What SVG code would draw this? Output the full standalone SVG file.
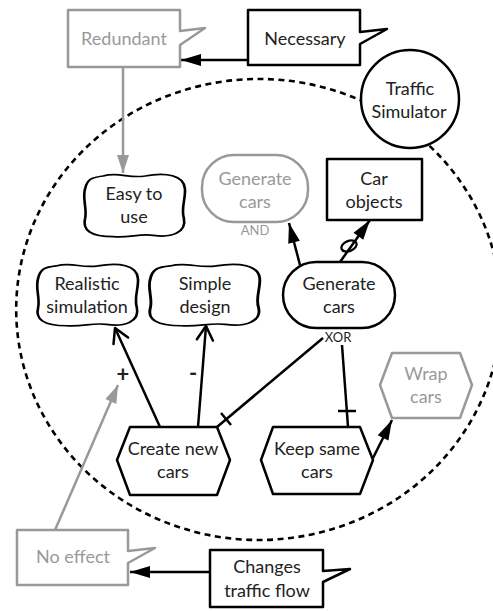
<svg xmlns="http://www.w3.org/2000/svg" width="493" height="611" viewBox="0 0 493 611">
  <style>
    .k { fill: #fff; stroke: #000; stroke-width: 2.5; stroke-linejoin: round; }
    .gr { fill: #fff; stroke: #999; stroke-width: 2.5; stroke-linejoin: round; }
    .ln { fill: none; stroke: #000; stroke-width: 2.5; }
    .lg { fill: none; stroke: #999; stroke-width: 2.5; }
    text { font-family: Lato, "Liberation Sans", sans-serif; font-size: 18px; text-anchor: middle; fill: #222; }
    text.g { fill: #999; }
    text.s { font-size: 13px; }
    text.sign { font-size: 22px; font-weight: bold; }
    .boundary { fill: none; stroke: #000; stroke-width: 2.6; stroke-dasharray: 6 4.5; }
  </style>
  <defs>
    <marker id="head" markerUnits="userSpaceOnUse" markerWidth="22" markerHeight="14" refX="20" refY="0" orient="auto" overflow="visible">
      <path d="M0,-6 L20,0 L0,6 Z" fill="#000"/>
    </marker>
    <marker id="headGray" markerUnits="userSpaceOnUse" markerWidth="22" markerHeight="14" refX="18" refY="0" orient="auto" overflow="visible">
      <path d="M0,-6 L18,0 L0,6 Z" fill="#999"/>
    </marker>
    <marker id="open" markerUnits="userSpaceOnUse" markerWidth="18" markerHeight="20" refX="15" refY="0" orient="auto" overflow="visible">
      <path d="M1,-8 L15,0 L1,8" fill="none" stroke="#000" stroke-width="2.5" stroke-linecap="round" stroke-linejoin="round"/>
    </marker>
    <!-- softgoal (cloud) outline in a 100x100 box -->
    <path id="soft" d="M20,6 C35,0 45,10 60,6 C80,0 97,5 98,25 C99,40 94,55 97,70 C100,92 85,100 68,96 C55,93 45,100 30,98 C8,98 0,88 3,70 C5,55 0,40 3,25 C5,10 10,8 20,6 Z"/>
  </defs>

  <!-- actor boundary -->
  <ellipse class="boundary" cx="258.7" cy="309.5" rx="242.5" ry="230.5"/>

  <!-- links -->
  <g id="connectors">
    <line class="ln" x1="248" y1="60" x2="181" y2="60" marker-end="url(#head)"/>
    <line class="lg" x1="123" y1="67" x2="123" y2="173" marker-end="url(#headGray)"/>
    <line class="ln" x1="300" y1="265" x2="289" y2="223" marker-end="url(#head)"/>
    <line class="ln" x1="340" y1="262" x2="370" y2="220" marker-end="url(#head)"/>
    <ellipse cx="349" cy="246" rx="8" ry="5" transform="rotate(-22 349 246)" fill="none" stroke="#000" stroke-width="2.3"/>
    <line class="ln" x1="160" y1="427" x2="115" y2="328" marker-end="url(#open)"/>
    <line class="ln" x1="198" y1="427" x2="206" y2="326" marker-end="url(#open)"/>
    <line class="ln" x1="217" y1="427" x2="323" y2="338"/>
    <line class="ln" x1="221" y1="413" x2="231" y2="425"/>
    <line class="ln" x1="348" y1="427" x2="342" y2="345"/>
    <line class="ln" x1="338" y1="411" x2="356" y2="411"/>
    <line class="ln" x1="373" y1="458" x2="392" y2="420" marker-end="url(#head)"/>
    <line class="lg" x1="55" y1="530" x2="118" y2="385" marker-end="url(#headGray)"/>
    <line class="ln" x1="210" y1="572" x2="130" y2="572" marker-end="url(#head)"/>
    <text class="sign" x="123" y="382">+</text>
    <text class="sign" x="193" y="381">-</text>
  </g>

  <g id="redundant">
    <path class="gr" d="M68,10 H180 V31 L205,28 L180,45 V67 H68 Z"/>
    <text class="g" x="124" y="45">Redundant</text>
  </g>

  <g id="necessary">
    <path class="k" d="M248,10 H360 V32 L387,29 L360,44 V65 H248 Z"/>
    <text x="305" y="45">Necessary</text>
  </g>

  <g id="traffic-simulator">
    <circle class="k" cx="410" cy="99" r="49"/>
    <text x="410" y="95">Traffic</text>
    <text x="409" y="118">Simulator</text>
  </g>

  <g id="easy-to-use">
    <use href="#soft" class="k" vector-effect="non-scaling-stroke" transform="translate(82,172) scale(1.05,0.66)"/>
    <text x="134" y="200">Easy to</text>
    <text x="134" y="223">use</text>
  </g>

  <g id="realistic-simulation">
    <use href="#soft" class="k" vector-effect="non-scaling-stroke" transform="translate(35,262) scale(1.05,0.65)"/>
    <text x="87" y="290">Realistic</text>
    <text x="87" y="313">simulation</text>
  </g>

  <g id="simple-design">
    <use href="#soft" class="k" vector-effect="non-scaling-stroke" transform="translate(147,262) scale(1.15,0.65)"/>
    <text x="205" y="290">Simple</text>
    <text x="205" y="313">design</text>
  </g>

  <g id="generate-cars-and">
    <rect class="gr" x="202" y="155" width="106" height="67" rx="32" ry="32"/>
    <text class="g" x="255" y="185">Generate</text>
    <text class="g" x="255" y="208">cars</text>
    <text class="g s" x="255" y="235">AND</text>
  </g>

  <g id="car-objects">
    <rect class="k" x="327" y="159" width="95" height="61"/>
    <text x="374" y="185">Car</text>
    <text x="374" y="208">objects</text>
  </g>

  <g id="generate-cars">
    <rect class="k" x="283" y="262" width="112" height="66" rx="33" ry="33"/>
    <text x="339" y="290">Generate</text>
    <text x="339" y="313">cars</text>
    <text class="s" x="338" y="342">XOR</text>
  </g>

  <g id="create-new-cars">
    <path class="k" d="M130,427 H217 L230,460 L217,495 H130 L117,460 Z"/>
    <text x="173" y="455">Create new</text>
    <text x="173" y="478">cars</text>
  </g>

  <g id="keep-same-cars">
    <path class="k" d="M273,427 H360 L373,460 L360,494 H273 L261,460 Z"/>
    <text x="317" y="455">Keep same</text>
    <text x="317" y="478">cars</text>
  </g>

  <g id="wrap-cars">
    <path class="gr" d="M392,353 H460 L472,385 L460,418 H392 L380,385 Z"/>
    <text class="g" x="426" y="380">Wrap</text>
    <text class="g" x="426" y="403">cars</text>
  </g>

  <g id="no-effect">
    <path class="gr" d="M17,530 H128 V551 L155,548 L128,563 V585 H17 Z"/>
    <text class="g" x="73" y="563">No effect</text>
  </g>

  <g id="changes-traffic-flow">
    <path class="k" d="M210,550 H323 V571 L350,569 L323,582 V607 H210 Z"/>
    <text x="267" y="573">Changes</text>
    <text x="267" y="597">traffic flow</text>
  </g>
</svg>
